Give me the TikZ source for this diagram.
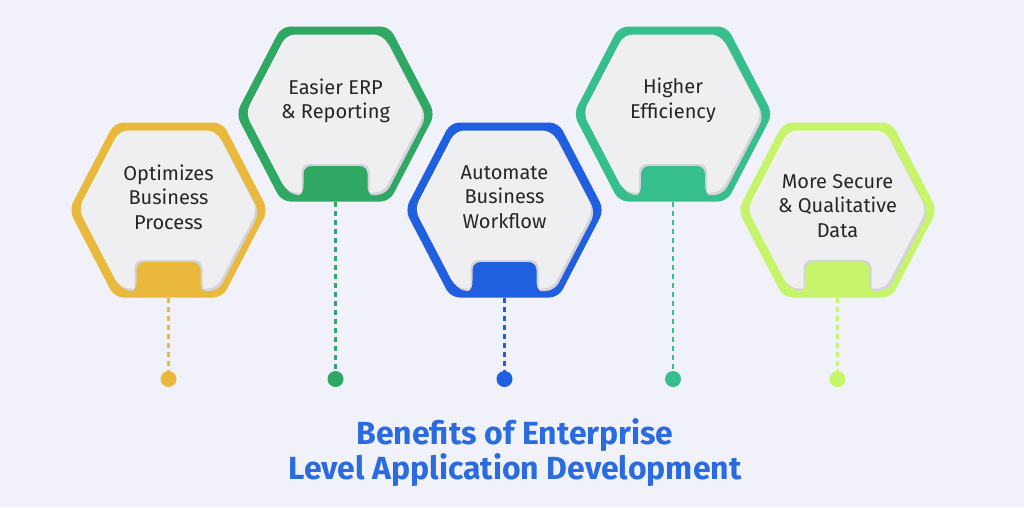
\documentclass[tikz,border=0pt]{standalone}
\usepackage{fontspec}
\setmainfont{Fira Sans}
\definecolor{bgc}{HTML}{F1F1F9}
\definecolor{cyel}{HTML}{E9B93E}
\definecolor{cgrn}{HTML}{2FA864}
\definecolor{cblu}{HTML}{1F5FE0}
\definecolor{ctea}{HTML}{36BF8C}
\definecolor{clim}{HTML}{C6F56B}
\definecolor{ctitle}{HTML}{2A6BE0}
\definecolor{cinner}{HTML}{EFEFF1}
\definecolor{cshadow}{HTML}{D3D3D9}
\definecolor{ctext}{HTML}{262626}
\tikzset{
  lbl/.style={align=center, text=ctext, font=\fontsize{20}{24.5}\selectfont, inner sep=0pt},
  dotline/.style={line width=2.4pt, dash pattern=on 5pt off 4pt},
  enddot/.style={circle, inner sep=0pt, minimum size=16pt},
  titletxt/.style={align=center, text=ctitle, font=\bfseries\fontsize{32}{35}\selectfont, inner sep=0pt}
}
\newcommand\hexbox[6]{%
\begin{scope}[shift={(#2,#3)}]
 \fill[#4, rounded corners=9pt] (-99.5,0) -- (-54,-87.5) -- (54,-87.5) -- (99.5,0) -- (54,87.5) -- (-54,87.5) -- cycle;
 \fill[cshadow, rounded corners=9pt, shift={(2,2.5)}] (-89,0) -- (-48,-78.5) -- (48,-78.5) -- (89,0) -- (48,78.5) -- (-48,78.5) -- cycle;
 \fill[white!70!cinner, rounded corners=9pt, shift={(-1,-1)}] (-89,0) -- (-48,-78.5) -- (48,-78.5) -- (89,0) -- (48,78.5) -- (-48,78.5) -- cycle;
 \fill[cinner, rounded corners=9pt] (-89,0) -- (-48,-78.5) -- (48,-78.5) -- (89,0) -- (48,78.5) -- (-48,78.5) -- cycle;
 \fill[cshadow] (-34,80) [rounded corners=8pt] -- (-34,50) -- (34,50) [sharp corners] -- (34,80) -- cycle;
 \fill[#4] (-40,84) .. controls (-33,80) and (-32,78) .. (-32,70) [rounded corners=8pt] -- (-32,52) -- (32,52) [sharp corners] -- (32,70) .. controls (32,78) and (33,80) .. (40,84) -- cycle;
 \coordinate (#1-bot) at (0,87.5);
 \node[lbl] (#1-txt) at (0,#6) {#5};
\end{scope}
}
\begin{document}
\begin{tikzpicture}[x=1pt,y=-1pt]
\fill[bgc] (0,0) rectangle (1024,507);
\useasboundingbox (0,0) rectangle (1024,507);
\hexbox{h1}{168.5}{210}{cyel}{Optimizes\\Business\\Process}{-13}
\hexbox{h2}{335.5}{114}{cgrn}{Easier ERP\\\& Reporting}{-13}
\hexbox{h3}{504.5}{210}{cblu}{Automate\\Business\\Workflow}{-13}
\hexbox{h4}{673}{114}{ctea}{Higher\\Efficiency}{-13.5}
\hexbox{h5}{837.5}{210}{clim}{More Secure\\\& Qualitative\\Data}{-4}
\node[enddot, fill=cyel] (d1) at (168.5,379) {};
\node[enddot, fill=cgrn] (d2) at (335.5,379) {};
\node[enddot, fill=cblu] (d3) at (504.5,379) {};
\node[enddot, fill=ctea] (d4) at (673,379) {};
\node[enddot, fill=clim] (d5) at (837.5,379) {};
\draw[dotline, cyel] (h1-bot) -- (d1);
\draw[dotline, cgrn] (h2-bot) -- (d2);
\draw[dotline, cblu] (h3-bot) -- (d3);
\draw[dotline, ctea] (h4-bot) -- (d4);
\draw[dotline, clim] (h5-bot) -- (d5);
\node[titletxt] (title) at (515,453) {Benefits of Enterprise\\Level Application Development};
\end{tikzpicture}
\end{document}
